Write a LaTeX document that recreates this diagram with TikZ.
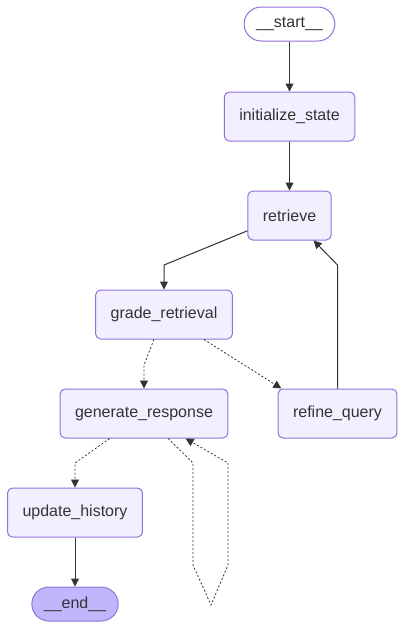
\documentclass[tikz,border=0pt]{standalone}
\usepackage{fontspec}
\setmainfont{Liberation Sans}
\usetikzlibrary{arrows.meta}
\definecolor{nodefill}{HTML}{F2F0FF}
\definecolor{nodeline}{HTML}{9370DB}
\definecolor{endfill}{HTML}{BFB6FC}
\definecolor{inkgray}{HTML}{333333}
\begin{document}
\begin{tikzpicture}[x=1pt, y=-1pt, >={Triangle[length=8pt,width=8pt]},
  every node/.style={font=\fontsize{16}{19}\selectfont, text=inkgray},
  box/.style={draw=nodeline, line width=1pt, fill=nodefill, rounded corners=5pt, minimum height=49pt, inner xsep=15pt},
  term/.style={draw=nodeline, line width=1pt, rounded corners=17pt, minimum height=34pt, inner xsep=12pt},
  flow/.style={->, inkgray, line width=1pt},
  cond/.style={->, inkgray, line width=0.8pt, dash pattern=on 2pt off 2pt}]
  \useasboundingbox (0, 0) rectangle (405, 630);
  \node[term, fill=white] (start) at (289.5, 24) {\_\_start\_\_};
  \node[box] (initstate) at (289.5, 116.5) {initialize\_state};
  \node[box] (retrieve) at (289.5, 215.5) {retrieve};
  \node[box] (grade) at (164, 314.5) {grade\_retrieval};
  \node[box] (generate) at (144, 413.5) {generate\_response};
  \node[box] (refine) at (337.5, 413.5) {refine\_query};
  \node[box] (update) at (75, 512.5) {update\_history};
  \node[term, fill=endfill] (finish) at (75, 604) {\_\_end\_\_};
  \draw[flow] (start) -- (initstate);
  \draw[flow] (initstate) -- (retrieve);
  \draw[flow] (retrieve.200) -- (grade.north |- 0, 265) -- (grade);
  \draw[flow] (refine) -- (refine.north |- 0, 265) -- (retrieve.-46);
  \draw[cond] (grade.-112) -- (generate.north |- 0, 365) -- (generate);
  \draw[cond] (grade.-32) -- (refine.156);
  \draw[cond] (generate.-144) -- (update.north |- 0, 463) -- (update);
  % loop back into generate_response
  \draw[cond] (generate.-46) -- (193, 463) -- (193, 565) -- (211, 605)
    -- (228, 565) -- (228, 463) -- (generate.-31);
  \draw[flow] (update) -- (finish);
\end{tikzpicture}
\end{document}
